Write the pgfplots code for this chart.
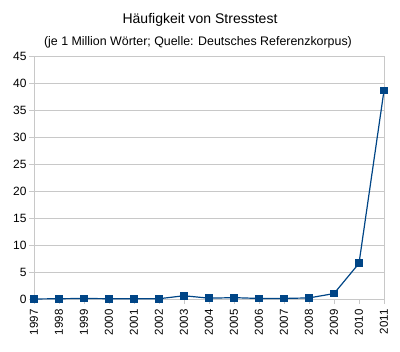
\documentclass[border=0pt]{standalone}
\usepackage{pgfplots}
\pgfplotsset{compat=1.18}
\usepackage{fontspec}
\setmainfont{Liberation Sans}
\definecolor{lineblue}{HTML}{004586}
\definecolor{gridgray}{HTML}{C8C8C8}
\begin{document}
\begin{tikzpicture}
\path[use as bounding box] (0pt,0pt) rectangle (400pt,352pt);
\begin{axis}[
  at={(34pt,53pt)}, anchor=south west,
  scale only axis, width=350pt, height=243pt,
  xmin=1997, xmax=2011, ymin=0, ymax=45,
  xtick={1997,...,2011}, ytick={0,5,...,45},
  /pgf/number format/assume math mode=true,
  /pgf/number format/1000 sep={},
  ymajorgrids, grid style={gridgray, line width=0.8pt},
  axis line style={gridgray, line width=0.8pt},
  axis x line*=bottom, axis y line*=left,
  tick align=outside, major tick length=5pt,
  tick style={gridgray, line width=0.8pt},
  xticklabel style={rotate=90, anchor=east, font=\fontsize{11.5}{12}\selectfont, xshift=-2pt},
  yticklabel style={font=\fontsize{12}{13}\selectfont, xshift=1pt},
  clip=false,
]
\draw[gridgray, line width=0.8pt] (axis cs:2011,0) -- (axis cs:2011,45);
\addplot[lineblue, line width=1.2pt, mark=square*, mark size=3.3pt, mark options={fill=lineblue}] coordinates {
(1997,0.0) (1998,0.05) (1999,0.1) (2000,0.05) (2001,0.05) (2002,0.05) (2003,0.6)
(2004,0.15) (2005,0.25) (2006,0.1) (2007,0.1) (2008,0.2) (2009,1.0) (2010,6.6) (2011,38.6)
};
\end{axis}
\node[font=\fontsize{14}{16}\selectfont] at (200pt,332pt) {Häufigkeit von Stresstest};
\node[font=\fontsize{12.4}{14}\selectfont] at (198pt,310pt) {(je 1 Million Wörter; Quelle: Deutsches Referenzkorpus)};
\end{tikzpicture}
\end{document}
